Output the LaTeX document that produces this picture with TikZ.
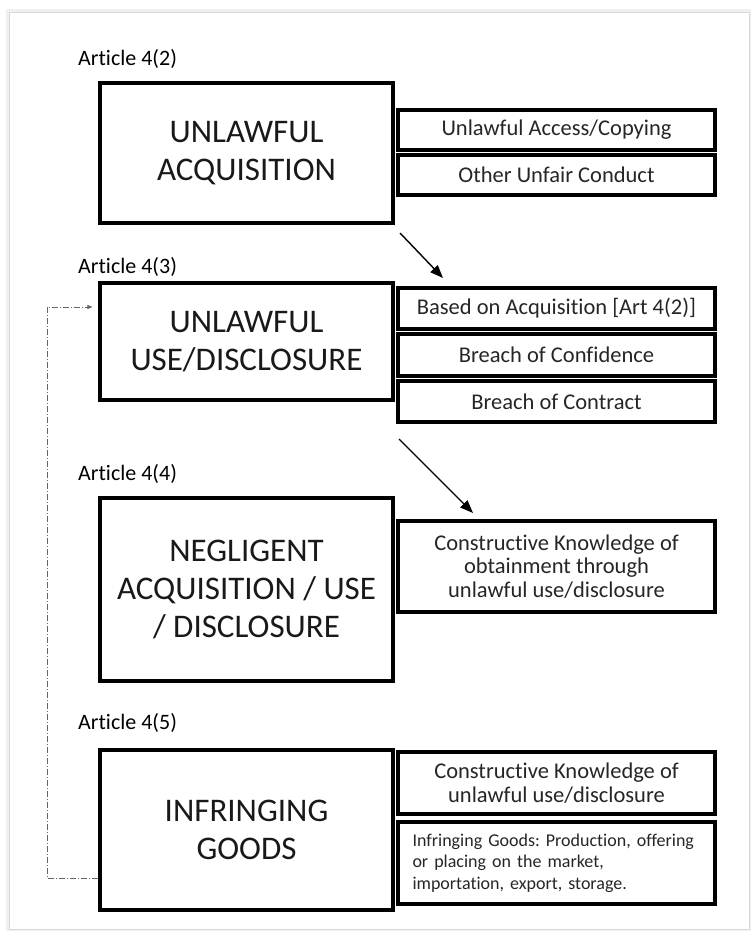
\documentclass[tikz,border=0pt]{standalone}
\usepackage{fontspec}
\setmainfont[Ligatures=NoCommon]{Carlito}
\usetikzlibrary{arrows.meta}
\begin{document}
\frenchspacing
\begin{tikzpicture}[x=1pt,y=-1pt,
  mainbox/.style={draw=black,line width=3.2pt,minimum width=293pt,align=center,inner sep=0pt,
    font=\fontsize{33}{38}\selectfont,text=black!90},
  sidebox/.style={draw=black,line width=3.2pt,minimum width=317pt,align=center,inner sep=0pt,
    font=\fontsize{22.5}{23.5}\selectfont,text=black!85},
  artlabel/.style={anchor=base west,inner sep=0pt,font=\fontsize{22}{24}\selectfont,text=black},
  flow/.style={line width=1.4pt,-{Triangle[length=13pt,width=10pt]}},
  backlink/.style={line width=0.6pt,black!60,dash pattern=on 6pt off 2pt on 1pt off 2pt,-{Triangle[length=5pt,width=4pt]}}
]
\useasboundingbox (0,0) rectangle (751,931);
% page frame with light shadow
\fill[black!6] (6,9) rectangle (751,931);
\fill[white] (9,12) rectangle (749,929);
\draw[black!15,line width=0.6pt] (9,12) rectangle (749,929);

% Article labels
\node[artlabel] (a2) at (78,66) {Article 4(2)};
\node[artlabel] (a3) at (78,273) {Article 4(3)};
\node[artlabel] (a4) at (78,480) {Article 4(4)};
\node[artlabel] (a5) at (78,729) {Article 4(5)};

% main boxes
\node[mainbox,minimum height=140pt] (b1) at (246.5,153) {UNLAWFUL\\ACQUISITION};
\node[mainbox,minimum height=117pt] (b2) at (246.5,341.5) {UNLAWFUL\\USE/DISCLOSURE};
\node[mainbox,minimum height=183pt] (b3) at (246.5,589.5) {NEGLIGENT\\ACQUISITION / USE\\/ DISCLOSURE};
\node[mainbox,minimum height=160pt] (b4) at (246.5,830) {INFRINGING\\GOODS};

% side boxes
\node[sidebox,minimum height=40pt] (r1a) at (556.5,130) {Unlawful Access/Copying};
\node[sidebox,minimum height=40pt] (r1b) at (556.5,175) {Other Unfair Conduct};
\node[sidebox,minimum height=41pt] (r2a) at (556.5,308.5) {Based on Acquisition [Art 4(2)]};
\node[sidebox,minimum height=42pt] (r2b) at (556.5,355) {Breach of Confidence};
\node[sidebox,minimum height=41pt] (r2c) at (556.5,401.5) {Breach of Contract};
\node[sidebox,minimum height=91pt] (r3) at (556.5,566.5) {Constructive Knowledge of\\obtainment through\\unlawful use/disclosure};
\node[sidebox,minimum height=62pt] (r4a) at (556.5,783) {Constructive Knowledge of\\unlawful use/disclosure};
\node[sidebox,minimum height=82pt,align=left,text width=288pt,inner xsep=0pt,
  font=\fontsize{18}{21.7}\selectfont] (r4b) at (556.5,863) {Infringing Goods: Production, offering\\or placing on the market,\\importation, export, storage.};

% flow arrows
\coordinate (f1s) at (400,233);
\coordinate (f1e) at (443,278);
\coordinate (f2s) at (399,439);
\coordinate (f2e) at (473,513);
\draw[flow] (f1s) -- (f1e);
\draw[flow] (f2s) -- (f2e);

% dashed back link from infringing goods to unlawful use
\coordinate (d1) at (47,878);
\coordinate (d2) at (47,307);
\draw[backlink] (b4.west |- d1) -- (d1) -- (d2) -- ([xshift=-6pt]b2.west |- d2);
\end{tikzpicture}
\end{document}
